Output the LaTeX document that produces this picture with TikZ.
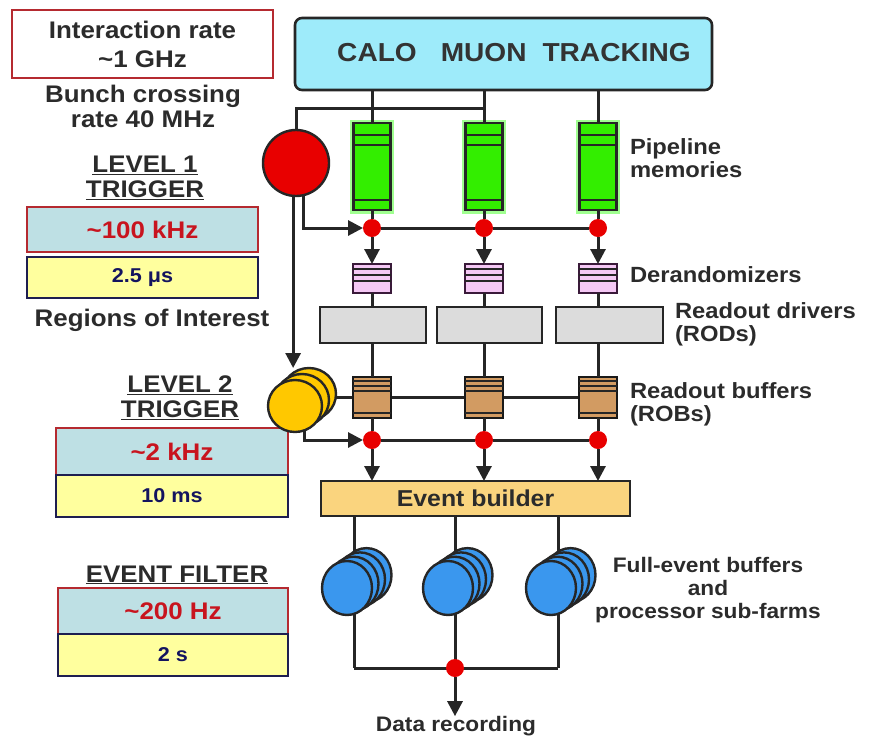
\documentclass[tikz,border=0pt]{standalone}
\usepackage{fontspec}
\setmainfont[FakeStretch=1.08]{Liberation Sans}
\usetikzlibrary{arrows.meta,shapes.geometric,backgrounds,calc}

\definecolor{txtgray}{HTML}{2B2B2B}
\definecolor{rateline}{HTML}{B52A30}
\definecolor{ratetxt}{HTML}{C8141E}
\definecolor{ratefill}{HTML}{BEE0E4}
\definecolor{latfill}{HTML}{FFFF9E}
\definecolor{latline}{HTML}{1E1E50}
\definecolor{lattxt}{HTML}{14145F}
\definecolor{detfill}{HTML}{9EEBFA}
\definecolor{pipegreen}{HTML}{33EE00}
\definecolor{pipeglow}{HTML}{A0FF90}
\definecolor{derpink}{HTML}{F5C8F5}
\definecolor{derline}{HTML}{3A1A3A}
\definecolor{rodgray}{HTML}{DCDCDC}
\definecolor{robbrown}{HTML}{D29B62}
\definecolor{roiyellow}{HTML}{FFC800}
\definecolor{efblue}{HTML}{3A97EE}
\definecolor{ebfill}{HTML}{FAD47E}
\definecolor{dotred}{HTML}{E80000}

\tikzset{
  wire/.style={line width=3pt, draw=black!85},
  arr/.style={wire, -{Triangle[length=15pt,width=15pt]}},
  stripe/.style={line width=1.8pt, draw=black!85},
  lefttxt/.style={font=\bfseries\fontsize{24}{25}\selectfont, text=txtgray, align=center},
  rtxt/.style={font=\bfseries\fontsize{22}{23}\selectfont, text=txtgray, align=left, anchor=west},
  inbox/.style={draw=rateline, line width=2pt, fill=white, align=center,
    font=\bfseries\fontsize{24}{29}\selectfont, text=txtgray},
  ratebox/.style={draw=rateline, line width=1.6pt, fill=ratefill,
    font=\bfseries\fontsize{24}{26}\selectfont, text=ratetxt},
  latbox/.style={draw=latline, line width=1.6pt, fill=latfill,
    font=\bfseries\fontsize{20}{22}\selectfont, text=lattxt},
  detbox/.style={draw=black!85, line width=2.6pt, fill=detfill, rounded corners=7pt},
  pipebox/.style={draw=black!85, line width=2.4pt, fill=pipegreen,
    preaction={draw=pipeglow, line width=7pt}, minimum width=37pt, minimum height=87pt},
  derbox/.style={draw=derline, line width=2.4pt, fill=derpink, minimum width=38pt, minimum height=29pt},
  rodbox/.style={draw=black!85, line width=2.6pt, fill=rodgray, minimum height=36pt},
  robbox/.style={draw=black!90, line width=2.8pt, fill=robbrown, minimum width=38pt, minimum height=41pt},
  dot/.style={circle, fill=dotred, minimum size=18pt},
  l1disk/.style={circle, draw=black!85, line width=2.4pt, fill=dotred, minimum size=66pt},
  yeldisk/.style={ellipse, draw=black!85, line width=2.4pt, fill=roiyellow, minimum width=54pt, minimum height=52pt},
  bludisk/.style={ellipse, draw=black!85, line width=2.4pt, fill=efblue, minimum width=50pt, minimum height=54pt},
  ebbox/.style={draw=black!85, line width=2.4pt, fill=ebfill, minimum width=309pt, minimum height=35pt,
    font=\bfseries\fontsize{23}{25}\selectfont, text=txtgray}
}

\begin{document}
\begin{tikzpicture}[y=1pt, x=1pt, yscale=-1, inner sep=0pt, outer sep=0pt]
\useasboundingbox (0,0) rectangle (876,740);

% rates and latencies
\node[inbox, minimum width=261pt, minimum height=68pt] (intr) at (142.5,44) {Interaction rate\\\textasciitilde1 GHz};
\node[lefttxt] (bx) at (143,106) {Bunch crossing\\rate 40 MHz};
\node[lefttxt] (lv1) at (145,178) {\underline{LEVEL 1}\\\underline{TRIGGER}};
\node[ratebox, minimum width=231pt, minimum height=45pt] (rate1) at (142.5,229.5) {\textasciitilde100 kHz};
\node[latbox, minimum width=231pt, minimum height=41pt] (lat1) at (142.5,277.5) {2.5 μs};
\node[lefttxt] (roi) at (152,320) {Regions of Interest};
\node[lefttxt] (lv2) at (180,398) {\underline{LEVEL 2}\\\underline{TRIGGER}};
\node[ratebox, minimum width=232pt, minimum height=47pt] (rate2) at (172,451.5) {\textasciitilde2 kHz};
\node[latbox, minimum width=232pt, minimum height=42pt] (lat2) at (172,496) {10 ms};
\node[lefttxt] (ef) at (177,575) {\underline{EVENT FILTER}};
\node[ratebox, minimum width=230pt, minimum height=46pt] (rate3) at (173,611) {\textasciitilde200 Hz};
\node[latbox, minimum width=230pt, minimum height=42pt] (lat3) at (173,655) {2 s};

% detectors
\node[detbox, minimum width=417pt, minimum height=72pt] (cmt) at (503.5,54) {};
\node[font=\bfseries\fontsize{26}{28}\selectfont, text=black!80] (cmtlbl) at (514,53) {CALO\hspace{24pt}MUON\hspace{16pt}TRACKING};

% level 1
\node[l1disk] (l1) at (296,163) {};
\coordinate (l1in) at (486,108);
\draw[wire] (l1.north) |- (l1in);

% readout columns
\foreach \i/\x in {1/372,2/484,3/598}{
  \node[pipebox] (pm\i) at (\x,166.5) {};
  \draw[stripe] ($(pm\i.north west)+(0,12)$) -- ($(pm\i.north east)+(0,12)$);
  \draw[stripe] ($(pm\i.north west)+(0,22)$) -- ($(pm\i.north east)+(0,22)$);
  \draw[stripe] ($(pm\i.south west)+(0,-10)$) -- ($(pm\i.south east)+(0,-10)$);
  \node[dot] (a\i) at (\x,228) {};
  \node[derbox] (dr\i) at (\x,278.5) {};
  \foreach \s in {5,11,17}
    \draw[stripe] ($(dr\i.north west)+(0,\s)$) -- ($(dr\i.north east)+(0,\s)$);
  \node[robbox] (rob\i) at (\x,397.5) {};
  \foreach \s in {4,9,14}
    \draw[stripe] ($(rob\i.north west)+(0,\s)$) -- ($(rob\i.north east)+(0,\s)$);
  \draw[stripe] ($(rob\i.south west)+(0,-5)$) -- ($(rob\i.south east)+(0,-5)$);
  \node[dot] (b\i) at (\x,440) {};
}
\foreach \i/\x/\w in {1/373/106,2/489.5/105,3/609.5/107}
  \node[rodbox, minimum width=\w pt] (rod\i) at (\x,325) {};

\foreach \i in {1,2,3}{
  \draw[wire] (cmt.south -| pm\i) -- (pm\i);
  \draw[wire] (pm\i) -- (a\i);
  \draw[arr] (a\i) -- (dr\i);
  \draw[wire] (dr\i) -- (dr\i |- rod\i.north);
  \draw[wire] (rod\i.south -| rob\i) -- (rob\i);
  \draw[wire] (rob\i) -- (b\i);
}
\draw[wire] (a1) -- (a2) -- (a3);
\draw[wire] (b1) -- (b2) -- (b3);
\draw[arr] (l1.-76) |- (a1);

% level 2
\foreach \k in {2,1,0}
  \node[yeldisk] (l2-\k) at ({295+7*\k},{406-6*\k}) {};
\draw[arr] (l1.-95) -- (l1.-95 |- l2-2.north);
\draw[arr] (l2-0.-68) |- (b1);

% event builder and filter
\node[ebbox] (eb) at (475.5,498.5) {Event builder};
\foreach \i in {1,2,3}
  \draw[arr] (b\i) -- (eb.north -| b\i);

\foreach \i/\x in {1/347,2/448,3/551}{
  \foreach \k in {3,2,1,0}
    \node[bludisk] (fe\i-\k) at ({\x+6.5*\k},{588-4.3*\k}) {};
  \coordinate (d\i) at ({\x+7},668);
}
\node[dot] (rec) at (d2) {};
\node[lefttxt, font=\bfseries\fontsize{21}{23}\selectfont] (datarec) at (456,726) {Data recording};
\draw[arr] (rec) -- (rec |- datarec.north);

\begin{scope}[on background layer]
  \foreach \i in {1,2,3}
    \draw[wire] (eb.south -| d\i) -- (d\i);
  \draw[wire] (d1) -- (d3);
  \draw[wire] (l2-0 |- rob1) -- (rob3);
\end{scope}

% labels
\node[rtxt] (pmlbl) at (630,158) {Pipeline\\memories};
\node[rtxt] (drlbl) at (630,275) {Derandomizers};
\node[rtxt] (rodlbl) at (675,324) {Readout drivers\\(RODs)};
\node[rtxt] (roblbl) at (630,404) {Readout buffers\\(ROBs)};
\node[rtxt, align=center, anchor=center, font=\bfseries\fontsize{21}{23}\selectfont] (felbl) at (708,590) {Full-event buffers\\and\\processor sub-farms};
\end{tikzpicture}
\end{document}
